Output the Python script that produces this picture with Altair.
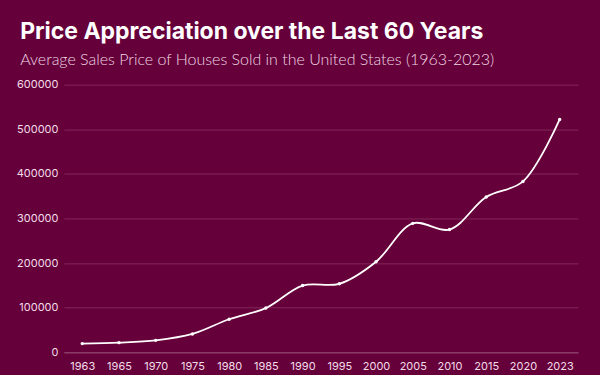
import altair as alt
import pandas as pd

years = ["1963", "1965", "1970", "1975", "1980", "1985", "1990", "1995",
         "2000", "2005", "2010", "2015", "2020", "2023"]
prices = [19300, 21500, 26600, 41000, 74000, 99000, 149500, 153500,
          203000, 289000, 275000, 348000, 383000, 522000]

df = pd.DataFrame({"year": years, "price": prices})

BG = "#66003a"
TXT = "#f3dde8"

base = alt.Chart(df).encode(
    x=alt.X("year:O", sort=years,
            axis=alt.Axis(title=None, labelAngle=0, labelColor=TXT, labelFontSize=11,
                          labelFont="Inter", ticks=False, domainColor="#8a3a66",
                          domainWidth=1.5, labelPadding=8, grid=False)),
    y=alt.Y("price:Q", scale=alt.Scale(domain=[0, 600000]),
            axis=alt.Axis(title=None, values=[0, 100000, 200000, 300000, 400000, 500000, 600000],
                          format="d", labelColor=TXT, labelFontSize=11, labelFont="Inter",
                          ticks=False, domain=False, gridColor="#82285a", gridWidth=1,
                          labelPadding=6)),
)

line = base.mark_line(interpolate="catmull-rom", color="white", strokeWidth=1.8)
pts = base.mark_point(filled=True, color="white", size=12, opacity=1)

chart = (line + pts).properties(
    width=515,
    height=268,
    title=alt.TitleParams(
        "Price Appreciation over the Last 60 Years",
        subtitle="Average Sales Price of Houses Sold in the United States (1963-2023)",
        anchor="start", frame="bounds", font="Inter", fontSize=23, fontWeight="bold",
        color="white", subtitleFont="Lato", subtitleFontSize=16, subtitleFontWeight=300,
        subtitleColor="#eed6e2", subtitlePadding=8, offset=10.4, dx=4,
    ),
    background=BG,
    padding={"left": 16, "top": 20.5, "right": 22, "bottom": 5},
).configure_view(stroke=None)

chart.save("out.html", embed_options={"renderer": "svg", "actions": False})
